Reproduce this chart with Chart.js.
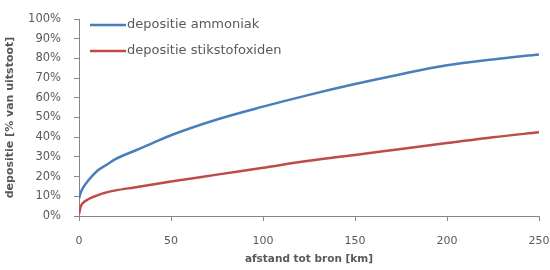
<!DOCTYPE html>
<html>
<head>
<meta charset="utf-8">
<script src="https://cdn.jsdelivr.net/npm/chart.js@4/dist/chart.umd.min.js"></script>
<style>
  body { margin: 0; background: #fff; }
  #wrap { width: 550px; height: 270px; }
</style>
</head>
<body>
<div id="wrap"><canvas id="myChart" width="550" height="270"></canvas></div>
<script>
// afstand tot bron [km]
var afstand = [0, 1, 2, 5, 10, 15, 20, 30, 40, 50, 75, 100, 125, 150, 175, 200, 225, 250];
// depositie (fractie van uitstoot)
var ammoniak = [0.09, 0.12, 0.14, 0.18, 0.23, 0.26, 0.29, 0.33, 0.37, 0.41, 0.49, 0.555, 0.615, 0.67, 0.72, 0.765, 0.795, 0.82];
var stikstofoxiden = [0.01, 0.05, 0.065, 0.085, 0.105, 0.12, 0.13, 0.145, 0.16, 0.175, 0.21, 0.245, 0.28, 0.31, 0.34, 0.37, 0.40, 0.425];
var seriesLabels = ['depositie ammoniak', 'depositie stikstofoxiden'];
var seriesColors = ['#4A7EBB', '#BE4B48'];

var fontFamily = "'DejaVu Sans', sans-serif";
var textColor = '#595959';
var axisColor = '#868686';

function toPoints(xs, ys) {
    return xs.map(function (x, i) { return { x: x, y: ys[i] }; });
}

// legend drawn inside the plot area, top-left
var insideLegend = {
    id: 'insideLegend',
    afterDraw: function (chart) {
        var ctx = chart.ctx;
        var area = chart.chartArea;
        ctx.save();
        ctx.font = '13px ' + fontFamily;
        ctx.textBaseline = 'middle';
        chart.data.datasets.forEach(function (ds, i) {
            var y = area.top + 6 + i * 26;
            var x0 = area.left + 11;
            ctx.strokeStyle = ds.borderColor;
            ctx.lineWidth = 2.5;
            ctx.beginPath();
            ctx.moveTo(x0, y);
            ctx.lineTo(x0 + 36, y);
            ctx.stroke();
            ctx.fillStyle = textColor;
            ctx.fillText(ds.label, x0 + 37, y);
        });
        ctx.restore();
    }
};

var ctx = document.getElementById('myChart').getContext('2d');
var chart = new Chart(ctx, {
    type: 'line',
    data: {
        datasets: [{
            label: seriesLabels[0],
            data: toPoints(afstand, ammoniak),
            borderColor: seriesColors[0],
            borderWidth: 2.5,
            pointRadius: 0,
            cubicInterpolationMode: 'monotone'
        }, {
            label: seriesLabels[1],
            data: toPoints(afstand, stikstofoxiden),
            borderColor: seriesColors[1],
            borderWidth: 2.5,
            pointRadius: 0,
            cubicInterpolationMode: 'monotone'
        }]
    },
    options: {
        responsive: false,
        animation: false,
        layout: { padding: { top: 19, right: 11, left: 0, bottom: 0 } },
        plugins: {
            legend: { display: false },
            tooltip: { enabled: false }
        },
        scales: {
            x: {
                type: 'linear',
                min: 0,
                max: 250,
                ticks: { stepSize: 50, color: textColor, font: { family: fontFamily, size: 11 }, padding: 14 },
                grid: { drawOnChartArea: false, drawTicks: true, tickLength: 5, color: axisColor },
                border: { color: axisColor, width: 1 },
                title: { display: true, text: 'afstand tot bron [km]', color: textColor, font: { family: fontFamily, size: 10.5, weight: 'bold' }, padding: { top: 0 } },
                afterFit: function (scale) {
                    scale.height = 54;
                    scale.paddingLeft = 0;
                    scale.paddingRight = 0;
                }
            },
            y: {
                min: 0,
                max: 1,
                ticks: {
                    stepSize: 0.1,
                    color: textColor,
                    font: { family: fontFamily, size: 11.5 },
                    padding: 13,
                    callback: function (v) { return Math.round(v * 100) + '%'; }
                },
                grid: { drawOnChartArea: false, drawTicks: true, tickLength: 5, color: axisColor },
                border: { color: axisColor, width: 1 },
                title: { display: true, text: 'depositie [% van uitstoot]', color: textColor, font: { family: fontFamily, size: 11, weight: 'bold' }, padding: { bottom: 3 } },
                afterFit: function (scale) {
                    scale.width = 79;
                    scale.paddingTop = 0;
                    scale.paddingBottom = 0;
                }
            }
        }
    },
    plugins: [insideLegend]
});
</script>
</body>
</html>
